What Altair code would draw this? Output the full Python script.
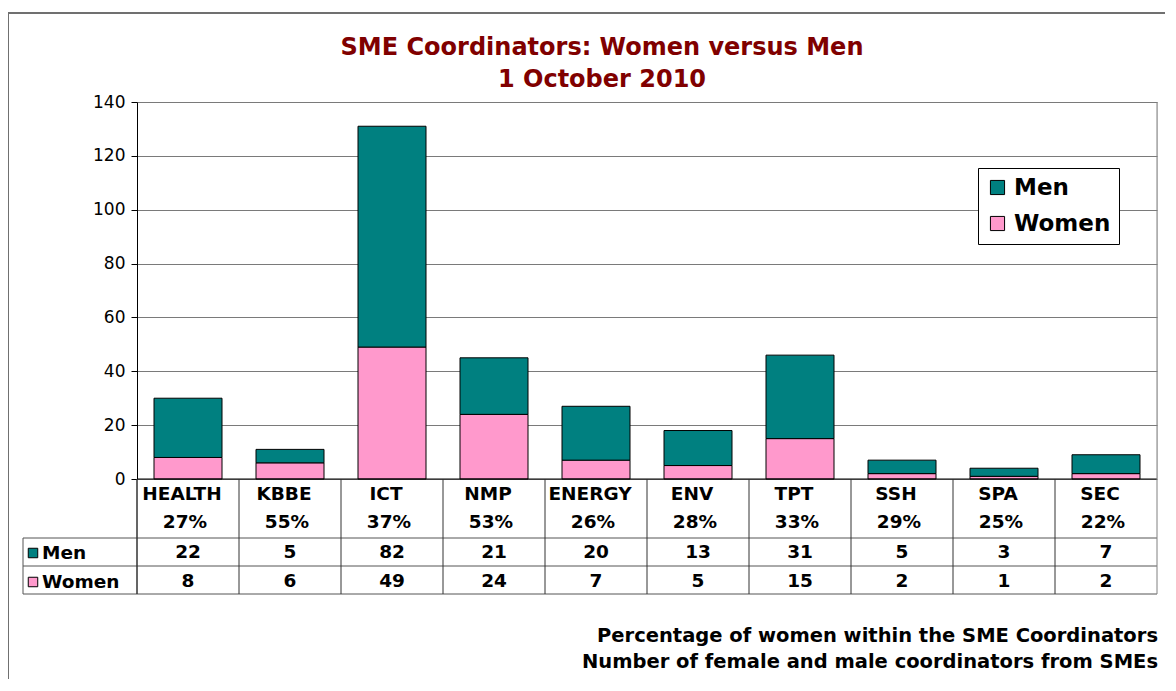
import altair as alt
import pandas as pd

cats = ["HEALTH", "KBBE", "ICT", "NMP", "ENERGY", "ENV", "TPT", "SSH", "SPA", "SEC"]
men = [22, 5, 82, 21, 20, 13, 31, 5, 3, 7]
women = [8, 6, 49, 24, 7, 5, 15, 2, 1, 2]
pcts = ["27%", "55%", "37%", "53%", "26%", "28%", "33%", "29%", "25%", "22%"]
series = ["Men", "Women"]
colors = ["#008080", "#FF99CC"]
y_ticks = [0, 20, 40, 60, 80, 100, 120, 140]

FONT = "DejaVu Sans"
W, H = 1020, 377
TFS = 18.5

rows = []
for c, m, w in zip(cats, men, women):
    rows.append({"cat": c, "series": "Women", "value": w, "ord": 0})
    rows.append({"cat": c, "series": "Men", "value": m, "ord": 1})
bars_df = pd.DataFrame(rows)
tab_df = pd.DataFrame({"cat": cats, "pct": pcts, "men": men, "women": women})
one = pd.DataFrame({"k": [0]})

xscale = alt.Scale(domain=cats, paddingInner=1/3, paddingOuter=1/6)
X = alt.X("cat:N", scale=xscale, axis=None, sort=cats)

bars = alt.Chart(bars_df).mark_bar(stroke="black", strokeWidth=1).encode(
    x=X,
    y=alt.Y("value:Q", stack="zero", title=None,
            scale=alt.Scale(domain=[0, 140], nice=False),
            axis=alt.Axis(values=y_ticks, grid=True, gridColor="#7a7a7a",
                          domainColor="black", tickColor="black", tickSize=6,
                          labelFontSize=17, labelFont=FONT, labelColor="black",
                          labelPadding=6)),
    color=alt.Color("series:N",
                    scale=alt.Scale(domain=series, range=colors),
                    legend=alt.Legend(orient="none", legendX=841, legendY=66,
                                      title=None, strokeColor="black",
                                      fillColor="white", padding=8,
                                      labelFontSize=23, labelFont=FONT,
                                      labelFontWeight="bold", labelColor="black",
                                      symbolType="square", symbolSize=200,
                                      symbolStrokeColor="black",
                                      symbolStrokeWidth=1, rowPadding=12,
                                      labelOffset=5)),
    order=alt.Order("ord:Q"),
)

def hrule(y, x0, x1, color="#555"):
    return alt.Chart(one).mark_rule(color=color, strokeWidth=1).encode(
        x=alt.value(x0), x2=alt.value(x1), y=alt.value(y))

def vrule(x, y0, y1, color="#555"):
    return alt.Chart(one).mark_rule(color=color, strokeWidth=1).encode(
        x=alt.value(x), y=alt.value(y0), y2=alt.value(y1))

# table separators at category boundaries
seps = alt.Chart(tab_df).mark_rule(color="#333", strokeWidth=1, xOffset=-51).encode(
    x=X, y=alt.value(H), y2=alt.value(492))

def ttext(field, y, dx=-6):
    return alt.Chart(tab_df).mark_text(font=FONT, fontSize=TFS, fontWeight="bold",
                                       color="black", baseline="middle",
                                       dx=dx).encode(
        x=X, y=alt.value(y), text=f"{field}:N")

def free_text(txt, x, y, size=TFS, color="black", align="left"):
    return alt.Chart(one).mark_text(font=FONT, fontSize=size, fontWeight="bold",
                                    color=color, align=align,
                                    baseline="middle").encode(
        x=alt.value(x), y=alt.value(y), text=alt.value(txt))

def sq(y, color):
    return alt.Chart(one).mark_point(shape="square", filled=True, size=90,
                                     fill=color, stroke="black", strokeWidth=1,
                                     opacity=1).encode(
        x=alt.value(-104), y=alt.value(y))

border = alt.Chart(one).mark_rect(fill=None, stroke="#707070", strokeWidth=2).encode(
    x=alt.value(-129), x2=alt.value(1070), y=alt.value(-89), y2=alt.value(700))

chart = alt.layer(
    border,
    bars,
    hrule(H, 0, W, "black"),
    hrule(436, -114, W),
    hrule(464, -114, W),
    hrule(492, -114, W),
    vrule(-114, 436, 492),
    vrule(0, H, 492, "#333"),
    vrule(W, 0, 492, "#808080"),
    seps,
    ttext("cat", 392),
    ttext("pct", 420, dx=-3),
    ttext("men", 450, dx=0),
    ttext("women", 479, dx=0),
    sq(451, colors[0]),
    sq(480, colors[1]),
    free_text("Men", -95, 451),
    free_text("Women", -95, 480),
    free_text("SME Coordinators: Women versus Men", 465, -54, size=24,
              color="#800000", align="center"),
    free_text("1 October 2010", 465, -22, size=24, color="#800000",
              align="center"),
    free_text("Percentage of women within the SME Coordinators", 1021, 534,
              size=19.5, align="right"),
    free_text("Number of female and male coordinators from SMEs", 1021, 560,
              size=19.5, align="right"),
).properties(
    width=W, height=H,
    autosize=alt.AutoSizeParams(type="none"),
    padding={"left": 129, "top": 94, "right": 8, "bottom": 200},
).configure_view(stroke="#808080").configure(font=FONT)

chart.save("out.html", embed_options={"renderer": "svg", "actions": False})
